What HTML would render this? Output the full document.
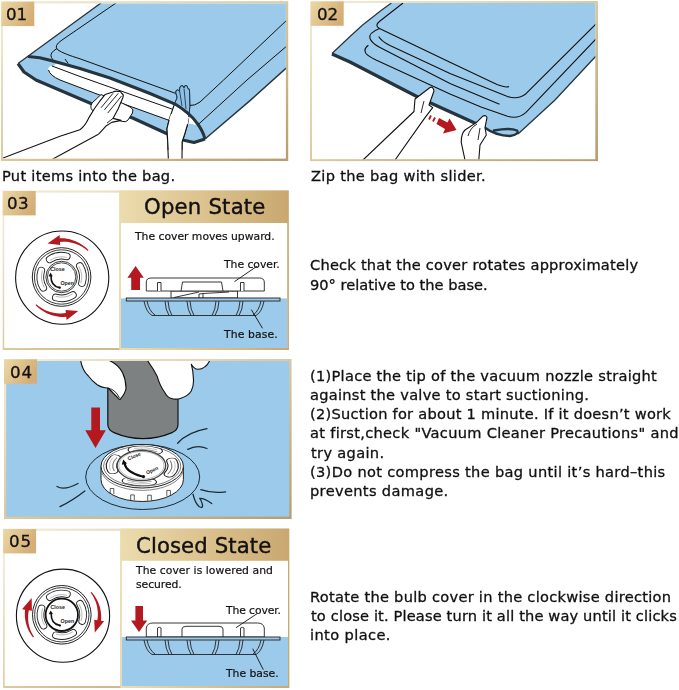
<!DOCTYPE html>
<html><head><meta charset="utf-8"><title>Vacuum bag instructions</title>
<style>
html,body{margin:0;padding:0;background:#fff;}
body{width:679px;height:690px;position:relative;overflow:hidden;font-family:"DejaVu Sans","Liberation Sans",sans-serif;color:#111;}
svg{position:absolute;left:0;top:0;}
.t{position:absolute;white-space:nowrap;line-height:1;margin:0;will-change:transform;}
</style></head><body>

<svg width="679" height="690" viewBox="0 0 679 690">
<defs>
<linearGradient id="gf" x1="0" y1="0" x2="1" y2="1"><stop offset="0" stop-color="#f6eed8"/><stop offset="0.5" stop-color="#dcc9a0"/><stop offset="1" stop-color="#b89d6e"/></linearGradient>
<linearGradient id="gb" x1="0" y1="0" x2="1" y2="0.4"><stop offset="0" stop-color="#ecd8a6"/><stop offset="1" stop-color="#d5ae76"/></linearGradient>
<linearGradient id="gt" x1="0" y1="0" x2="1" y2="0"><stop offset="0" stop-color="#ecdcae"/><stop offset="0.5" stop-color="#dcc28e"/><stop offset="1" stop-color="#c9a870"/></linearGradient>
<clipPath id="c1"><rect x="3" y="3.4" width="282.9" height="155.2"/></clipPath>
<clipPath id="c2"><rect x="312" y="3" width="283.3" height="156.2"/></clipPath>
<clipPath id="c4"><rect x="6.2" y="361" width="283.1" height="155.6"/></clipPath>
</defs>
<rect x="1" y="1.2" width="287.20" height="159.80" fill="url(#gf)"/>
<rect x="3" y="3.4" width="282.90" height="155.20" fill="#fff"/>
<rect x="310" y="1" width="288.00" height="160.10" fill="url(#gf)"/>
<rect x="312" y="3" width="283.30" height="156.20" fill="#fff"/>
<rect x="2.7" y="190.5" width="286.00" height="159.50" fill="url(#gf)"/>
<rect x="4.2" y="192.6" width="115.10" height="155.40" fill="#fff"/>
<rect x="119.3" y="190.5" width="169.40" height="159.50" fill="url(#gt)"/>
<rect x="121" y="223" width="166.20" height="125.00" fill="#fff"/>
<rect x="121" y="298.4" width="166.20" height="49.60" fill="#9ccaea"/>
<rect x="4" y="359" width="287.60" height="160.00" fill="url(#gf)"/>
<rect x="6.2" y="361" width="283.10" height="155.60" fill="#9ccaea"/>
<rect x="3.1" y="528.6" width="286.10" height="159.40" fill="url(#gf)"/>
<rect x="4.7" y="530.8" width="115.60" height="155.20" fill="#fff"/>
<rect x="120.3" y="528.6" width="168.90" height="159.40" fill="url(#gt)"/>
<rect x="121.9" y="560.8" width="166.10" height="125.20" fill="#fff"/>
<rect x="121.9" y="637" width="166.10" height="49.00" fill="#9ccaea"/>

<g clip-path="url(#c1)">
  <path d="M101,3 L18,63.6 L24,71.5 L36,79.5 L91,103 L132.7,117.5 L166.5,133 L184,139.8 L194,142 L205,139 L250,100.6 L288,66 L288,3 Z" fill="#9ccaea"/>
  <!-- white opening -->
  <path d="M48.5,70 Q47.5,65.5 53,66 L58,62.5 L80,69 L110,78.5 L150,94 L175,105 Q190,113 196,125 L189,123.4 L186,128 L169,120.3 L121.8,103.3 L97,94 L60,80 Q50,75.5 48.5,70 Z" fill="#fff"/>
  <path d="M52,66 L80,76.5 L172.4,109.2" fill="none" stroke="#111" stroke-width="1"/>
  <path d="M48.5,70 Q50,75.5 60,80 L97,94 L121.8,103.3 L169,120.3" fill="none" stroke="#111" stroke-width="1"/>
  <!-- top-left outer edge -->
  <path d="M101,3 L18,63.6" fill="none" stroke="#26343d" stroke-width="1.3"/>
  <!-- inner contents outline -->
  <path d="M116,3 L62,40 Q53,46 58,50 Q64,54 80,58.8 L175.4,93.3" fill="none" stroke="#111" stroke-width="1"/>
  <path d="M57,48.5 Q49,53 51.5,57.5 L54,62" fill="none" stroke="#111" stroke-width="1"/>
  <path d="M65,59 L68.2,63.5" fill="none" stroke="#111" stroke-width="1"/>
  <!-- right side lines -->
  <path d="M205,139 L250,100.6 L288,66.5" fill="none" stroke="#26343d" stroke-width="1.4"/>
  <path d="M198.6,124.2 L247,80 L288,45" fill="none" stroke="#111" stroke-width="1"/>
  <path d="M189,105.5 Q195,106 200,102 L223.6,80 L288,19" fill="none" stroke="#111" stroke-width="1"/>
  <!-- white roll + left hand -->
  <path d="M3,158 L60,136.3 L79.9,129.7 L98.4,134.3 L51,160 Z" fill="#fff"/>
  <path d="M3,158 L60,136.3 L79.9,129.7 M98.4,134.3 L51,160" fill="none" stroke="#111" stroke-width="1.1"/>
  <!-- right hand -->
  <path d="M168.4,160 L167,128.6 L169.1,119.8 L173.6,106.5 L177.2,97.7 L175.8,92.5 Q176,90 177.6,90 Q179,90 179.5,91.5 L179.8,88 Q180.5,85.5 182,85.7 Q183.5,86 184,88 Q184.5,85.3 186,85.5 Q187.5,85.8 187.8,88.5 Q189.3,88.5 189.5,91 L189.8,106.5 L188.6,118.3 L187.6,124.2 L184.6,134.5 L182.1,141.9 L182,160 Z" fill="#fff" stroke="#111" stroke-width="1.1" stroke-linejoin="round"/>
  <path d="M174.6,103.5 L177.2,97.7 L175.8,92.5 Q176,90 177.6,90 Q179,90 179.5,91.5 L179.8,88 Q180.5,85.5 182,85.7 Q183.5,86 184,88 Q184.5,85.3 186,85.5 Q187.5,85.8 187.8,88.5 Q189.3,88.5 189.5,91 L189.8,106.5 L189,115.5 Z" fill="#8fc0e3" stroke="#1b3a55" stroke-width="1"/>
  <path d="M179.6,91 L182,106 M184,88.5 L186,109" fill="none" stroke="#1b3a55" stroke-width="0.9"/>
  <!-- upper zipper -->
  <path d="M28,56.6 Q40,57 51,60.5 L80,68.5 L110,78 L150,93.5 L175,104 Q190,113 197,123 Q203,131 205,139" fill="none" stroke="#26343d" stroke-width="3"/>
  <!-- lower edge -->
  <path d="M18,63.6 L24,72 L36,80 L91,103.5 L132.7,118 L166.5,133.5 L184,140.3 L194,142.5 L205,139" fill="none" stroke="#26343d" stroke-width="3.2" stroke-linejoin="round"/>
  <!-- redraw hands over lower edge -->
  <path d="M92,103 L101,94.6 L122.3,103.2 L131,107.5 Q134,109.5 132.5,113 L128,120 Q126,122.5 123,121.5 L113,119 L95,112 Q88.5,109 92,103 Z" fill="#fff" stroke="#111" stroke-width="1"/>
  <path d="M79.9,129.7 Q85,126 88.5,118.4 L94.5,108.5 L99.8,101.2 L105,94.6 L113,92 Q116,90.5 118.3,91.5 Q121,91 121.6,93.3 Q124,94.5 123,97.2 L118.3,108.5 L113,118.4 L121,120.4 L111.7,122.4 L106.4,125.7 L98.4,134.3 Z" fill="#fff"/>
  <path d="M79.9,129.7 Q85,126 88.5,118.4 L94.5,108.5 L99.8,101.2 L105,94.6 L113,92 Q116,90.5 118.3,91.5 Q121,91 121.6,93.3 Q124,94.5 123,97.2 L118.3,108.5 L113,118.4 L121,120.4 L111.7,122.4 L106.4,125.7 L98.4,134.3" fill="none" stroke="#111" stroke-width="1.1" stroke-linejoin="round"/>
  <path d="M101,107.8 L113,93.3 M104.4,109.8 L118.3,93.3 M107.7,113.1 L121.6,95.9 M113,118.4 L107,123" fill="none" stroke="#111" stroke-width="0.9"/>
  <path d="M167,128.6 L169.1,119.8 L171,114 L189,117 L187.6,124.2 L184.6,134.5 L182.1,141.9 L182,150 L168,150 Z" fill="#fff"/>
  <path d="M168.2,150 L167,128.6 L169.1,119.8 M187.6,124.2 L184.6,134.5 L182.1,141.9 L182,150" fill="none" stroke="#111" stroke-width="1.1"/>
</g>

<g clip-path="url(#c2)">
  <path d="M391.4,3 L381.7,10 L362.6,25 L350,36.5 L332,54 L350,61.5 L420.7,97.5 L483.6,126 L496,134 L510,136.5 L518,134 L555,100 L596,56 L596,3 Z" fill="#9ccaea"/>
  <path d="M391.4,3 L381.7,10 L362.6,25 L350,36.5 L332,53.5" fill="none" stroke="#26343d" stroke-width="1.2"/>
  <path d="M518,134 L555,100 L596,56" fill="none" stroke="#26343d" stroke-width="1.3"/>
  <!-- inner lines -->
  <path d="M403,3 L380,21 Q374,25.5 379.5,28.4 L450,62.3 L497,84.5 Q506,88 509,86.5" fill="none" stroke="#111" stroke-width="1.1"/>
  <path d="M378.7,36.5 Q381,41 390,45.5 L450,73.5 L507.5,96.4 Q518,100 526,93.7 L596,24" fill="none" stroke="#111" stroke-width="1.1"/>
  <path d="M379.5,28.4 Q368,33 370,38.5 Q371.5,43 380,47.5 L450,83.5 L499.5,104.3" fill="none" stroke="#111" stroke-width="1.1"/>
  <path d="M368.4,45.3 Q363,49 366,53.5 Q368,56 376,60 L450,94 L481,107 L507.5,116.3 Q518,119.5 526,112.3 L596,39" fill="none" stroke="#111" stroke-width="1.1"/>
  <!-- front edge -->
  <path d="M332,54 L350,62 L420.7,98.5 L483.6,127" fill="none" stroke="#26343d" stroke-width="3.4"/>
  <path d="M483,126.5 Q496,136 510,136 Q520,134 517,130.5 Q510,127.5 494,130.5" fill="none" stroke="#26343d" stroke-width="2.4" stroke-linecap="round"/>
  <!-- hand 1 -->
  <path d="M363,160 L414,111.5 L415,99 L430,87.5 Q433,86 434,91 L429,105 L432.7,107.6 L425,117.6 L395,160 Z" fill="#fff" stroke="#111" stroke-width="1.1" stroke-linejoin="round"/>
  <path d="M424,101 L421,113" fill="none" stroke="#111" stroke-width="0.9"/>
  <!-- arrow -->
  <path d="M431,115.5 L429,119.5 M435,117.5 L433,121.5" stroke="#b3191e" stroke-width="1.8" fill="none"/>
  <path d="M439,118 L447.5,122.5 L449.5,118.5 L456.5,130 L443,133.5 L445,129 L436.5,124 Z" fill="#b3191e"/>
  <!-- hand 2 -->
  <path d="M465,160 L461.3,142.6 Q461,134 465,130 L476.3,122.6 L482.6,116.3 Q486,114.5 487,117.6 L485,127.6 L486.3,135 L480,145 L478.8,160 Z" fill="#fff" stroke="#111" stroke-width="1.1" stroke-linejoin="round"/>
  <path d="M477,124 Q470,128 468,136 M480,128 L478,140" fill="none" stroke="#111" stroke-width="0.9"/>
</g>
<circle cx="62.2" cy="277.6" r="46.6" fill="#fff" stroke="#111" stroke-width="1.1"/>
<circle cx="61.6" cy="277" r="29.3" fill="#fff" stroke="#222" stroke-width="1"/>
<circle cx="61.6" cy="277" r="27.2" fill="none" stroke="#222" stroke-width="0.9"/>
<path d="M49.69,259.34 A21.3,21.3 0 0 1 66.75,256.33" fill="none" stroke="#222" stroke-width="7.6" stroke-linecap="round"/>
<path d="M49.69,259.34 A21.3,21.3 0 0 1 66.75,256.33" fill="none" stroke="#fff" stroke-width="5.8" stroke-linecap="round"/>
<path d="M50.30,260.25 A20.2,20.2 0 0 1 66.49,257.40" fill="none" stroke="#999" stroke-width="0.7" stroke-linecap="round"/>
<path d="M79.86,266.03 A21.3,21.3 0 0 1 81.97,283.23" fill="none" stroke="#222" stroke-width="7.6" stroke-linecap="round"/>
<path d="M79.86,266.03 A21.3,21.3 0 0 1 81.97,283.23" fill="none" stroke="#fff" stroke-width="5.8" stroke-linecap="round"/>
<path d="M78.91,266.60 A20.2,20.2 0 0 1 80.92,282.91" fill="none" stroke="#999" stroke-width="0.7" stroke-linecap="round"/>
<path d="M72.89,295.06 A21.3,21.3 0 0 1 55.73,297.47" fill="none" stroke="#222" stroke-width="7.6" stroke-linecap="round"/>
<path d="M72.89,295.06 A21.3,21.3 0 0 1 55.73,297.47" fill="none" stroke="#fff" stroke-width="5.8" stroke-linecap="round"/>
<path d="M72.30,294.13 A20.2,20.2 0 0 1 56.03,296.42" fill="none" stroke="#999" stroke-width="0.7" stroke-linecap="round"/>
<path d="M43.25,287.81 A21.3,21.3 0 0 1 41.29,270.59" fill="none" stroke="#222" stroke-width="7.6" stroke-linecap="round"/>
<path d="M43.25,287.81 A21.3,21.3 0 0 1 41.29,270.59" fill="none" stroke="#fff" stroke-width="5.8" stroke-linecap="round"/>
<path d="M44.20,287.25 A20.2,20.2 0 0 1 42.33,270.93" fill="none" stroke="#999" stroke-width="0.7" stroke-linecap="round"/>
<circle cx="61.6" cy="277" r="15.7" fill="#fff" stroke="#222" stroke-width="0.9"/>
<circle cx="61.6" cy="277" r="14.2" fill="none" stroke="#222" stroke-width="0.8"/>
<path d="M51.0,275.5 Q50.6,286.0 59.4,287.6" fill="none" stroke="#111" stroke-width="1.6" stroke-linecap="round"/>
<path d="M50.4,272.6 l2.4,3.6 l-4.2,0.2 Z" fill="#111"/>
<circle cx="59.8" cy="287.7" r="1.1" fill="#111"/>
<text x="50.3" y="271.4" font-family="Liberation Sans, sans-serif" font-size="5.3" font-weight="bold" fill="#222">Close</text>
<text x="60.4" y="285.3" font-family="Liberation Sans, sans-serif" font-size="5.3" font-weight="bold" fill="#222">Open</text>
<path d="M88.50,250.16 L86.90,248.57 L85.21,247.08 L83.43,245.69 L81.57,244.40 L79.63,243.22 L77.61,242.16 L75.54,241.21 L73.40,240.39 L71.22,239.69 L68.99,239.12 L66.73,238.68 L64.43,238.37 L62.12,238.20 L59.80,238.16 L59.63,235.07 L47.50,243.45 L60.19,245.05 L60.01,241.96 L62.11,241.80 L64.22,241.78 L66.34,241.87 L68.45,242.09 L70.55,242.44 L72.63,242.91 L74.68,243.51 L76.70,244.22 L78.68,245.06 L80.62,246.01 L82.50,247.08 L84.31,248.26 L86.06,249.55 L87.74,250.95 Z" fill="#b3191e"/>
<path d="M35.50,305.04 L37.20,306.72 L39.02,308.29 L40.93,309.75 L42.93,311.09 L45.02,312.30 L47.19,313.38 L49.42,314.33 L51.72,315.14 L54.06,315.80 L56.46,316.32 L58.88,316.69 L61.33,316.90 L63.79,316.96 L66.26,316.87 L66.59,319.95 L78.26,310.95 L65.52,310.01 L65.85,313.09 L63.63,313.36 L61.39,313.49 L59.14,313.48 L56.88,313.32 L54.64,313.03 L52.41,312.59 L50.21,312.01 L48.05,311.30 L45.93,310.45 L43.86,309.46 L41.85,308.34 L39.91,307.10 L38.04,305.74 L36.26,304.25 Z" fill="#b3191e"/>
<path d="M144,301 Q146,312 152,315.5 L256,315.5 Q262,312 264,301" fill="none" stroke="#222" stroke-width="0.9"/>
<path d="M147,301 Q149,311 155,315" fill="none" stroke="#222" stroke-width="0.9"/>
<path d="M165,301 Q165.5,310 169,315.5 M168,301 Q168.5,310 172,315.5" fill="none" stroke="#222" stroke-width="0.9"/>
<path d="M187,301 Q187.5,310 191,315.5 M190,301 Q190.5,310 194,315.5" fill="none" stroke="#222" stroke-width="0.9"/>
<path d="M219,301 Q218.5,310 215,315.5 M216,301 Q215.5,310 212,315.5" fill="none" stroke="#222" stroke-width="0.9"/>
<path d="M243,301 Q242.5,310 239,315.5 M240,301 Q239.5,310 236,315.5" fill="none" stroke="#222" stroke-width="0.9"/>
<path d="M261,301 Q259,311 253,315" fill="none" stroke="#222" stroke-width="0.9"/>
<path d="M171,291 L171,298 L237.5,298 L237.5,291 Z" fill="#fff" stroke="#222" stroke-width="0.9"/>
<path d="M174,297.5 L199,292 M199,298 L199,294 L203,293.5 L229,292 M203,293.5 L203,298" fill="none" stroke="#222" stroke-width="0.9"/>
<path d="M146.3,291 L146.3,282 Q146.5,278 151,278 L259.5,278 Q264,278 264.3,282 L264.3,291 Z" fill="#fff" stroke="#222" stroke-width="0.9"/>
<path d="M157.5,291 L157.5,282.5 L161,282.5 L161,291 M240.5,291 L240.5,282.5 L244,282.5 L244,291" fill="#fff" stroke="#222" stroke-width="0.9"/>
<path d="M181,291 L182.5,282 L221.5,282 L223,291" fill="none" stroke="#222" stroke-width="0.9"/>
<rect x="126.3" y="298" width="153.7" height="3" fill="#9ccaea" stroke="#222" stroke-width="0.9"/>
<path d="M135.6,266 L143.8,277.8 L140,277.8 L140,290 L131.2,290 L131.2,277.8 L127.4,277.8 Z" fill="#b3191e"/>
<path d="M257,266.2 L234.5,281.6 M251.3,309.6 L262.5,328.3" stroke="#111" stroke-width="0.9" fill="none"/>
<g clip-path="url(#c4)">
<ellipse cx="142.7" cy="477" rx="57" ry="32.5" fill="#9ccaea" stroke="#1d2a33" stroke-width="1"/>
<path d="M100.99999999999999,466.2 L100.99999999999999,479.7 A41.2,21.8 0 0 0 183.39999999999998,479.7 L183.39999999999998,466.2 Z" fill="#fff" stroke="#222" stroke-width="1"/>
<path d="M101.19999999999999,470.7 A41.2,21.8 0 0 0 183.2,470.7" fill="none" stroke="#666" stroke-width="0.8"/>
<path d="M110.2,494.0 L110.2,488.5 L113.8,488.5 L113.8,494.0" fill="none" stroke="#333" stroke-width="0.8"/>
<path d="M130.7,500.4 L130.7,494.9 L134.3,494.9 L134.3,500.4" fill="none" stroke="#333" stroke-width="0.8"/>
<path d="M147.7,500.7 L147.7,495.2 L151.3,495.2 L151.3,500.7" fill="none" stroke="#333" stroke-width="0.8"/>
<path d="M166.8,495.9 L166.8,490.4 L170.4,490.4 L170.4,495.9" fill="none" stroke="#333" stroke-width="0.8"/>
<ellipse cx="142.2" cy="466.2" rx="41.2" ry="21.8" fill="#fff" stroke="#222" stroke-width="1"/>
<ellipse cx="142.2" cy="466.2" rx="38.6" ry="20" fill="none" stroke="#444" stroke-width="0.7"/>
<g transform="translate(142.29999999999998,465.9) scale(1,0.55)">
<path d="M-9.01,-29.45 A30.8,30.8 0 0 1 14.93,-26.94" fill="none" stroke="#222" stroke-width="11.5" stroke-linecap="round"/>
<path d="M-9.01,-29.45 A30.8,30.8 0 0 1 14.93,-26.94" fill="none" stroke="#fff" stroke-width="9.2" stroke-linecap="round"/>
<path d="M-9.12,-28.06 A29.5,29.5 0 0 1 14.75,-25.55" fill="none" stroke="#777" stroke-width="1.1" stroke-linecap="round"/>
<path d="M-7.98,-32.02 A33,33 0 0 1 14.47,-29.66" fill="none" stroke="#aaa" stroke-width="0.9" stroke-linecap="round"/>
<path d="M29.45,-9.01 A30.8,30.8 0 0 1 26.94,14.93" fill="none" stroke="#222" stroke-width="11.5" stroke-linecap="round"/>
<path d="M29.45,-9.01 A30.8,30.8 0 0 1 26.94,14.93" fill="none" stroke="#fff" stroke-width="9.2" stroke-linecap="round"/>
<path d="M28.06,-9.12 A29.5,29.5 0 0 1 25.55,14.75" fill="none" stroke="#777" stroke-width="1.1" stroke-linecap="round"/>
<path d="M32.02,-7.98 A33,33 0 0 1 29.66,14.47" fill="none" stroke="#aaa" stroke-width="0.9" stroke-linecap="round"/>
<path d="M9.01,29.45 A30.8,30.8 0 0 1 -14.93,26.94" fill="none" stroke="#222" stroke-width="11.5" stroke-linecap="round"/>
<path d="M9.01,29.45 A30.8,30.8 0 0 1 -14.93,26.94" fill="none" stroke="#fff" stroke-width="9.2" stroke-linecap="round"/>
<path d="M9.12,28.06 A29.5,29.5 0 0 1 -14.75,25.55" fill="none" stroke="#777" stroke-width="1.1" stroke-linecap="round"/>
<path d="M7.98,32.02 A33,33 0 0 1 -14.47,29.66" fill="none" stroke="#aaa" stroke-width="0.9" stroke-linecap="round"/>
<path d="M-29.45,9.01 A30.8,30.8 0 0 1 -26.94,-14.93" fill="none" stroke="#222" stroke-width="11.5" stroke-linecap="round"/>
<path d="M-29.45,9.01 A30.8,30.8 0 0 1 -26.94,-14.93" fill="none" stroke="#fff" stroke-width="9.2" stroke-linecap="round"/>
<path d="M-28.06,9.12 A29.5,29.5 0 0 1 -25.55,-14.75" fill="none" stroke="#777" stroke-width="1.1" stroke-linecap="round"/>
<path d="M-32.02,7.98 A33,33 0 0 1 -29.66,-14.47" fill="none" stroke="#aaa" stroke-width="0.9" stroke-linecap="round"/>
</g>
<ellipse cx="141.4" cy="465.6" rx="24.3" ry="15.1" fill="#fff" stroke="#444" stroke-width="1.3"/>
<ellipse cx="141.4" cy="465.4" rx="22.6" ry="13.9" fill="none" stroke="#999" stroke-width="0.7"/>
<path d="M124.6,463.5 Q126,472 141.5,476.3" fill="none" stroke="#111" stroke-width="2.1" stroke-linecap="round"/>
<path d="M123.2,459.6 l3.8,3.8 l-5.2,1.4 Z" fill="#111"/>
<circle cx="143.4" cy="476.6" r="1.7" fill="#111"/>
<text transform="translate(128.6,460.6) rotate(-24)" font-family="Liberation Sans, sans-serif" font-size="5" font-weight="bold" fill="#222">Close</text>
<text transform="translate(147,474.6) rotate(-25)" font-family="Liberation Sans, sans-serif" font-size="5" font-weight="bold" fill="#222">Open</text>
<path d="M107.8,360 L107.8,424.5 Q108,430 114,432.6 Q128,438.6 143,438.6 Q158,438.6 172,432.6 Q178,430 178,424.5 L178,360 Z" fill="#7d8182" stroke="#111" stroke-width="1.2"/>
<path d="M80.6,360 Q82,370 88.4,376 Q92,381 97.2,384.8 Q102,388 108.2,388 L117,397 Q119,400 120.4,399.2 Q126,392 126,388 Q126,380 122.6,372.7 Q118,364 108.2,360 Z" fill="#fff" stroke="#111" stroke-width="1.1" stroke-linejoin="round"/>
<path d="M108.5,388.5 Q115,389 119.5,398" fill="none" stroke="#111" stroke-width="0.9"/>
<path d="M147,360 Q153,368 157.3,376.6 Q160,386 164.5,392 Q167,397 170.7,398.2 Q176,400 181,398.2 Q188,396 191.3,391 Q194,385 193.4,378.6 Q193,370 191.3,364.2 Q194,369 198,369.3 Q206,369 210,360 Z" fill="#fff" stroke="#111" stroke-width="1.1" stroke-linejoin="round"/>
<path d="M91.3,407.5 L100,407.5 L100,430.2 L105.8,430.2 L95.5,448 L85.2,430.2 L91.3,430.2 Z" fill="#b3191e"/>
<path d="M57,486.5 Q64,491 78,483.5" fill="none" stroke="#1d2a33" stroke-width="1.3" stroke-linecap="round"/>
<path d="M60,506.6 Q72,501 84.8,491" fill="none" stroke="#1d2a33" stroke-width="1.3" stroke-linecap="round"/>
<path d="M177.6,443.2 Q188,432 207,428.7" fill="none" stroke="#1d2a33" stroke-width="1.3" stroke-linecap="round"/>
<path d="M187.8,449.4 Q197,444.5 207,448.5" fill="none" stroke="#1d2a33" stroke-width="1.3" stroke-linecap="round"/>
<path d="M200.8,489.6 Q212,493.5 225.6,491.8" fill="none" stroke="#1d2a33" stroke-width="1.3" stroke-linecap="round"/>
<path d="M193,494.2 Q195,503 199,506.5 Q203,509 202.5,505 Q201,499 199.3,498.5 Q204,498 211.7,503.5" fill="none" stroke="#1d2a33" stroke-width="1.3" stroke-linecap="round"/>
</g>
<circle cx="63" cy="615.7" r="46.6" fill="#fff" stroke="#111" stroke-width="1.1"/>
<circle cx="61.8" cy="614.8" r="29.3" fill="#fff" stroke="#222" stroke-width="1"/>
<circle cx="61.8" cy="614.8" r="27.2" fill="none" stroke="#222" stroke-width="0.9"/>
<path d="M49.89,597.14 A21.3,21.3 0 0 1 66.95,594.13" fill="none" stroke="#222" stroke-width="7.6" stroke-linecap="round"/>
<path d="M49.89,597.14 A21.3,21.3 0 0 1 66.95,594.13" fill="none" stroke="#fff" stroke-width="5.8" stroke-linecap="round"/>
<path d="M50.50,598.05 A20.2,20.2 0 0 1 66.69,595.20" fill="none" stroke="#999" stroke-width="0.7" stroke-linecap="round"/>
<path d="M80.06,603.83 A21.3,21.3 0 0 1 82.17,621.03" fill="none" stroke="#222" stroke-width="7.6" stroke-linecap="round"/>
<path d="M80.06,603.83 A21.3,21.3 0 0 1 82.17,621.03" fill="none" stroke="#fff" stroke-width="5.8" stroke-linecap="round"/>
<path d="M79.11,604.40 A20.2,20.2 0 0 1 81.12,620.71" fill="none" stroke="#999" stroke-width="0.7" stroke-linecap="round"/>
<path d="M73.09,632.86 A21.3,21.3 0 0 1 55.93,635.27" fill="none" stroke="#222" stroke-width="7.6" stroke-linecap="round"/>
<path d="M73.09,632.86 A21.3,21.3 0 0 1 55.93,635.27" fill="none" stroke="#fff" stroke-width="5.8" stroke-linecap="round"/>
<path d="M72.50,631.93 A20.2,20.2 0 0 1 56.23,634.22" fill="none" stroke="#999" stroke-width="0.7" stroke-linecap="round"/>
<path d="M43.45,625.61 A21.3,21.3 0 0 1 41.49,608.39" fill="none" stroke="#222" stroke-width="7.6" stroke-linecap="round"/>
<path d="M43.45,625.61 A21.3,21.3 0 0 1 41.49,608.39" fill="none" stroke="#fff" stroke-width="5.8" stroke-linecap="round"/>
<path d="M44.40,625.05 A20.2,20.2 0 0 1 42.53,608.73" fill="none" stroke="#999" stroke-width="0.7" stroke-linecap="round"/>
<circle cx="61.8" cy="614.8" r="16.2" fill="#fff" stroke="#111" stroke-width="1.8"/>
<path d="M51.2,613.3 Q50.8,623.8 59.6,625.4" fill="none" stroke="#111" stroke-width="1.6" stroke-linecap="round"/>
<path d="M50.6,610.4 l2.4,3.6 l-4.2,0.2 Z" fill="#111"/>
<circle cx="60.0" cy="625.5" r="1.1" fill="#111"/>
<text x="50.5" y="609.2" font-family="Liberation Sans, sans-serif" font-size="5.3" font-weight="bold" fill="#222">Close</text>
<text x="60.6" y="623.1" font-family="Liberation Sans, sans-serif" font-size="5.3" font-weight="bold" fill="#222">Open</text>
<path d="M33.03,637.48 L31.77,635.81 L30.60,634.07 L29.54,632.27 L28.57,630.40 L27.71,628.47 L26.95,626.50 L26.31,624.48 L25.78,622.42 L25.37,620.33 L25.07,618.21 L24.89,616.08 L24.83,613.93 L24.90,611.78 L25.08,609.63 L22.02,609.14 L31.67,597.97 L31.90,610.72 L28.83,610.23 L28.49,612.15 L28.24,614.09 L28.11,616.05 L28.09,618.01 L28.18,619.98 L28.38,621.95 L28.69,623.91 L29.12,625.85 L29.65,627.77 L30.29,629.66 L31.04,631.52 L31.90,633.34 L32.86,635.11 L33.92,636.83 Z" fill="#b3191e"/>
<path d="M91.38,591.88 L92.82,593.55 L94.16,595.31 L95.40,597.14 L96.53,599.05 L97.55,601.03 L98.45,603.08 L99.23,605.17 L99.88,607.32 L100.41,609.50 L100.81,611.72 L101.07,613.97 L101.20,616.23 L101.20,618.50 L101.06,620.77 L104.14,621.18 L94.79,632.60 L94.22,619.86 L97.30,620.27 L97.60,618.24 L97.79,616.18 L97.85,614.11 L97.79,612.04 L97.61,609.97 L97.30,607.90 L96.87,605.86 L96.32,603.83 L95.65,601.84 L94.85,599.89 L93.94,597.98 L92.92,596.12 L91.78,594.32 L90.54,592.59 Z" fill="#b3191e"/>
<path d="M144,640 Q146,651 152,654.5 L256,654.5 Q262,651 264,640" fill="none" stroke="#222" stroke-width="0.9"/>
<path d="M147,640 Q149,650 155,654" fill="none" stroke="#222" stroke-width="0.9"/>
<path d="M165,640 Q165.5,649 169,654.5 M168,640 Q168.5,649 172,654.5" fill="none" stroke="#222" stroke-width="0.9"/>
<path d="M187,640 Q187.5,649 191,654.5 M190,640 Q190.5,649 194,654.5" fill="none" stroke="#222" stroke-width="0.9"/>
<path d="M219,640 Q218.5,649 215,654.5 M216,640 Q215.5,649 212,654.5" fill="none" stroke="#222" stroke-width="0.9"/>
<path d="M243,640 Q242.5,649 239,654.5 M240,640 Q239.5,649 236,654.5" fill="none" stroke="#222" stroke-width="0.9"/>
<path d="M261,640 Q259,650 253,654" fill="none" stroke="#222" stroke-width="0.9"/>
<path d="M146.3,637 L146.3,628 Q147,623 153,623 L257.5,623 Q263.5,623 264.3,628 L264.3,637 Z" fill="#fff" stroke="#222" stroke-width="0.9"/>
<path d="M157.5,637 L157.5,628 Q159.3,626.6 161,628 L161,637 M240.5,637 L240.5,628 Q242.3,626.6 244,628 L244,637" fill="none" stroke="#222" stroke-width="0.9"/>
<path d="M182,637 L182,629 Q182.3,626.3 186,626.3 L219,626.3 Q222.7,626.3 223,629 L223,637" fill="none" stroke="#222" stroke-width="0.9"/>
<rect x="126.3" y="637" width="153.7" height="3" fill="#9ccaea" stroke="#222" stroke-width="0.9"/>
<path d="M139,632 L131,620.5 L135.4,620.5 L135.4,606 L143,606 L143,620.5 L147.2,620.5 Z" fill="#b3191e"/>
<path d="M257,613.7 L236,627.7 M252.7,648.7 L263.3,669.7" stroke="#111" stroke-width="0.9" fill="none"/>
<rect x="1.3" y="1.7" width="33" height="24.4" fill="url(#gb)"/>
<rect x="310.7" y="1.4" width="33" height="24.4" fill="url(#gb)"/>
<rect x="2.7" y="191" width="33" height="24.4" fill="url(#gb)"/>
<rect x="4" y="359.3" width="33" height="24.4" fill="url(#gb)"/>
<rect x="3.1" y="529" width="33" height="24.4" fill="url(#gb)"/>
</svg>
<div class="t" id="t0" style="left:2.00px;top:169.00px;font-size:14.6px;letter-spacing:0.291px;-webkit-text-stroke:0.3px #111">Put items into the bag.</div>
<div class="t" id="t1" style="left:311.00px;top:169.00px;font-size:14.6px;letter-spacing:0.313px;-webkit-text-stroke:0.3px #111">Zip the bag with slider.</div>
<div class="t" id="t2" style="left:310.00px;top:258.00px;font-size:14.6px;letter-spacing:0.229px;-webkit-text-stroke:0.3px #111">Check that the cover rotates approximately</div>
<div class="t" id="t3" style="left:310.00px;top:278.00px;font-size:14.6px;letter-spacing:0.008px;-webkit-text-stroke:0.3px #111">90° relative to the base.</div>
<div class="t" id="t4" style="left:310.00px;top:369.00px;font-size:14.6px;letter-spacing:0.276px;-webkit-text-stroke:0.3px #111">(1)Place the tip of the vacuum nozzle straight</div>
<div class="t" id="t5" style="left:310.00px;top:388.00px;font-size:14.6px;letter-spacing:0.270px;-webkit-text-stroke:0.3px #111">against the valve to start suctioning.</div>
<div class="t" id="t6" style="left:310.00px;top:407.00px;font-size:14.6px;letter-spacing:0.250px;-webkit-text-stroke:0.3px #111">(2)Suction for about 1 minute. If it doesn’t work</div>
<div class="t" id="t7" style="left:310.00px;top:426.00px;font-size:14.6px;letter-spacing:0.304px;-webkit-text-stroke:0.3px #111">at first,check &quot;Vacuum Cleaner Precautions&quot; and</div>
<div class="t" id="t8" style="left:311.00px;top:446.00px;font-size:14.6px;letter-spacing:0.333px;-webkit-text-stroke:0.3px #111">try again.</div>
<div class="t" id="t9" style="left:310.00px;top:465.00px;font-size:14.6px;letter-spacing:0.322px;-webkit-text-stroke:0.3px #111">(3)Do not compress the bag until it’s hard–this</div>
<div class="t" id="t10" style="left:310.00px;top:484.00px;font-size:14.6px;letter-spacing:0.347px;-webkit-text-stroke:0.3px #111">prevents damage.</div>
<div class="t" id="t11" style="left:310.00px;top:590.00px;font-size:14.6px;letter-spacing:0.281px;-webkit-text-stroke:0.3px #111">Rotate the bulb cover in the clockwise direction</div>
<div class="t" id="t12" style="left:311.00px;top:609.00px;font-size:14.6px;letter-spacing:0.152px;-webkit-text-stroke:0.3px #111">to close it. Please turn it all the way until it clicks</div>
<div class="t" id="t13" style="left:310.00px;top:628.00px;font-size:14.6px;letter-spacing:0.400px;-webkit-text-stroke:0.3px #111">into place.</div>
<div class="t" id="t14" style="left:144.00px;top:196.00px;font-size:21.2px;letter-spacing:0.222px;-webkit-text-stroke:0.4px #111">Open State</div>
<div class="t" id="t15" style="left:135.50px;top:535.00px;font-size:21.2px;letter-spacing:0.109px;-webkit-text-stroke:0.4px #111">Closed State</div>
<div class="t" id="t16" style="left:135.00px;top:232.00px;font-size:10.8px;letter-spacing:-0.009px;-webkit-text-stroke:0.2px #111">The cover moves upward.</div>
<div class="t" id="t17" style="left:224.00px;top:260.00px;font-size:10.8px;letter-spacing:-0.022px;-webkit-text-stroke:0.2px #111">The cover.</div>
<div class="t" id="t18" style="left:224.00px;top:330.00px;font-size:10.8px;letter-spacing:0.125px;-webkit-text-stroke:0.2px #111">The base.</div>
<div class="t" id="t19" style="left:136.00px;top:566.00px;font-size:10.8px;letter-spacing:0.061px;-webkit-text-stroke:0.2px #111">The cover is lowered and</div>
<div class="t" id="t20" style="left:136.00px;top:580.00px;font-size:10.8px;letter-spacing:-0.057px;-webkit-text-stroke:0.2px #111">secured.</div>
<div class="t" id="t21" style="left:226.00px;top:606.00px;font-size:10.8px;letter-spacing:-0.111px;-webkit-text-stroke:0.2px #111">The cover.</div>
<div class="t" id="t22" style="left:225.50px;top:669.00px;font-size:10.8px;letter-spacing:0.000px;-webkit-text-stroke:0.2px #111">The base.</div>
<div class="t" id="t23" style="left:6.00px;top:6.00px;font-size:16.7px;letter-spacing:0.000px;-webkit-text-stroke:0.3px #111">01</div>
<div class="t" id="t24" style="left:317.00px;top:6.00px;font-size:16.7px;letter-spacing:0.000px;-webkit-text-stroke:0.3px #111">02</div>
<div class="t" id="t25" style="left:7.30px;top:195.00px;font-size:16.7px;letter-spacing:0.500px;-webkit-text-stroke:0.3px #111">03</div>
<div class="t" id="t26" style="left:9.50px;top:364.00px;font-size:16.7px;letter-spacing:0.800px;-webkit-text-stroke:0.3px #111">04</div>
<div class="t" id="t27" style="left:9.00px;top:533.00px;font-size:16.7px;letter-spacing:0.800px;-webkit-text-stroke:0.3px #111">05</div>
</body></html>
